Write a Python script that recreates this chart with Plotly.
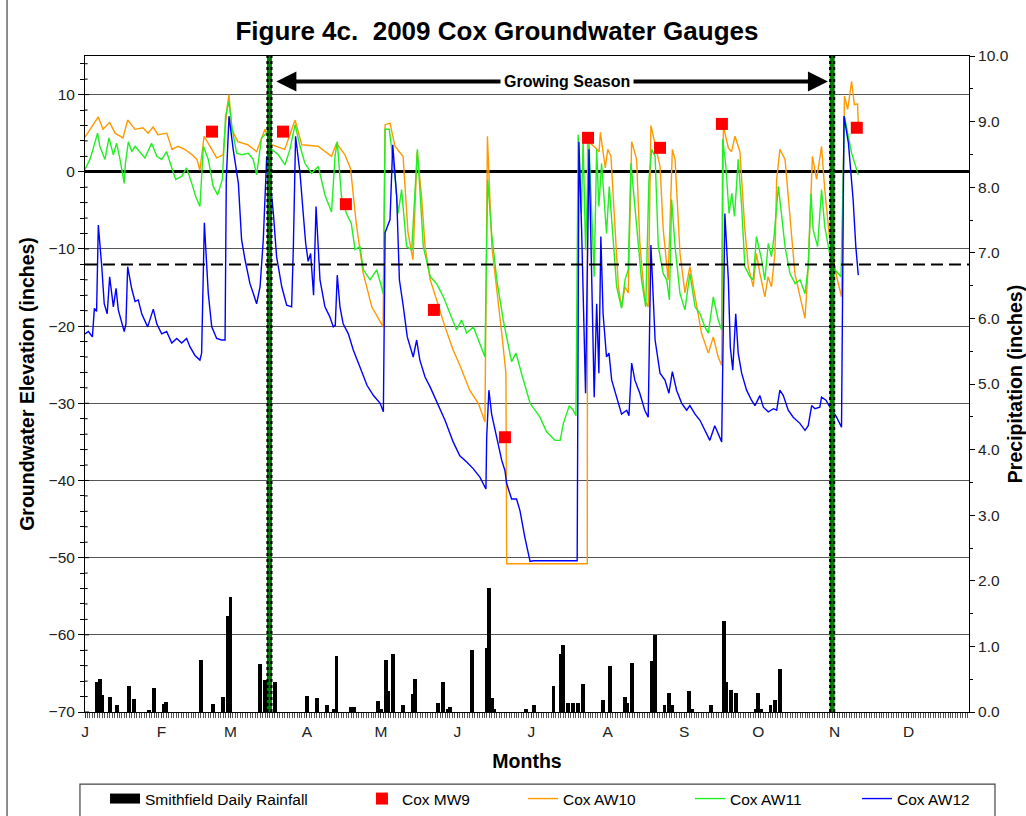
import plotly.graph_objects as go

FONT = "Liberation Sans, Arial, sans-serif"

# ---------------- data ----------------
month_starts = [0, 31, 59, 90, 120, 151, 181, 212, 243, 273, 304, 334]
month_labels = ["J", "F", "M", "A", "M", "J", "J", "A", "S", "O", "N", "D"]

left_ticks = [-70, -60, -50, -40, -30, -20, -10, 0, 10]
right_ticks = [0, 1, 2, 3, 4, 5, 6, 7, 8, 9, 10]

rain_days = [5, 6, 7, 10, 13, 18, 20, 26, 28, 32,
             33, 47, 52, 56, 58, 59, 71, 73, 74, 77,
             90, 94, 98, 101, 102, 108, 109, 119, 120, 122,
             123, 125, 129, 133, 134, 143, 145, 147, 148, 157,
             163, 164, 165, 166, 179, 182, 190, 193, 194, 196,
             198, 200, 202, 210, 213, 219, 220, 222, 230, 231,
             235, 237, 238, 245, 246, 254, 259, 260, 262, 264,
             272, 273, 274, 278, 280, 282]
rain_in = [0.46, 0.50, 0.26, 0.23, 0.10, 0.40, 0.20, 0.03, 0.37, 0.12,
           0.16, 0.79, 0.12, 0.23, 1.46, 1.76, 0.73, 0.49, 0.49, 0.46,
           0.24, 0.21, 0.10, 0.05, 0.85, 0.08, 0.08, 0.17, 0.05, 0.80,
           0.32, 0.89, 0.10, 0.27, 0.50, 0.13, 0.45, 0.05, 0.08, 0.94,
           0.97, 1.89, 0.21, 0.05, 0.05, 0.10, 0.39, 0.89, 1.02, 0.13,
           0.13, 0.13, 0.42, 0.18, 0.70, 0.23, 0.13, 0.74, 0.78, 1.17,
           0.10, 0.29, 0.10, 0.32, 0.05, 0.10, 1.39, 0.46, 0.33, 0.29,
           0.05, 0.29, 0.05, 0.10, 0.18, 0.65]

mw9_days = [51.5, 80.3, 105.8, 141.5, 170.3, 204.0, 233.2, 258.3, 313.0]
mw9_vals = [5.2, 5.2, -4.2, -17.9, -34.4, 4.4, 3.1, 6.2, 5.7]

aw10_days = [0, 5.4, 7.3, 10, 12.2, 15.4, 17.3, 20.3, 23.5, 25.6, 27.6, 29.6, 33.2, 35.3, 37.7,
             40.5, 43.4, 45.4, 46.6, 48.3, 50.7, 53.4, 56, 57.5, 58.4, 59.5, 62, 66, 69.6, 73,
             75.7, 81, 85.2, 87.9, 94.5, 100, 102, 103.4, 105.4, 107.7, 110, 112.8, 116.3, 120.9,
             121.7, 123.7, 125.7, 127.7, 129, 131, 133, 134.7, 136.5, 137.9, 140, 142.6, 146,
             149.3, 152.3, 156, 159.5, 162.2, 163.2, 165, 167, 169, 170.7, 171, 203.7, 203.8,
             207, 208.5, 209, 211, 212, 213.3, 215, 216.3, 217.6, 219, 220.3, 221.7, 223.7, 225,
             227, 228.4, 229.5, 231.8, 233.2, 234.5, 236.5, 238.2, 239.3, 241.3, 243.3, 245.3,
             247.4, 250, 252.8, 254.8, 256.8, 258.2, 258.9, 260.9, 262.2, 263.6, 265.6, 267.6,
             269, 271, 272.3, 273.7, 275.7, 277, 278.4, 279.8, 280.5, 281.8, 283.9, 285.9, 287.9,
             290, 292, 293.3, 295, 296.7, 298.7, 300, 302, 304.8, 306.8, 308, 309.3, 310.9, 312,
             313.3, 313.6]
aw10_vals = [4.5, 7.1, 5.5, 6.4, 5.0, 4.4, 6.7, 5.5, 5.7, 5.0, 5.8, 4.8, 5.0, 2.9, 3.3,
             2.9, 2.2, 1.6, 0.2, 4.6, 3.3, 1.8, 2.2, 8.1, 10.0, 5.5, 3.9, 3.5, 2.6, 5.5,
             3.5, 2.9, 6.7, 3.5, 3.3, 2.0, 3.7, 3.1, 2.2, 0.4, -6.7, -13.1, -17.5, -20.1,
             6.1, 6.3, 3.3, 2.5, 2.0, -7.9, -11.4, 2.6, -3.2, -9.7, -14.0, -16.6, -20.1,
             -23.1, -25.3, -28.3, -30.0, -32.4, 4.6, -9.7, -14.9, -20.9, -26.1, -50.8, -50.8, 4.0,
             3.1, 2.6, 5.1, 0.5, 2.9, 2.0, -7.5, -14.9, -17.5, -14.9, -15.7, 3.9, 1.6, -9.2,
             -16.6, -17.5, 6.0, 2.6, 0.7, -7.5, -14.0, 2.9, 1.6, -10.6, -15.7, -12.3,
             -16.2, -20.9, -23.5, -21.4, -24.0, -25.1, 5.9, 3.1, 2.6, 4.6, 2.6, -7.5,
             -12.3, -14.9, -10.6, -13.2, -16.2, -13.6, -14.9, -10.6, -1.0, 2.9, 1.6, -6.2, -13.2,
             -16.2, -19.0, -12.3, 2.0, -1.0, 3.3, -2.3, -8.8, -13.6, -16.2, 9.8, 8.1, 11.7, 8.7,
             8.8, 6.3]

aw11_days = [0, 2, 3.4, 5.1, 6, 8.1, 9.7, 11.5, 12.8, 14.2, 15.9, 16.4, 17.6, 19, 20.3, 22.3,
             24.3, 27, 29.1, 31.1, 33.1, 35.4, 36.8, 39.2, 41.2, 43.3, 44.9, 46.6, 48, 50, 52,
             53.8, 55.7, 57, 58.4, 59.7, 61.5, 63.5, 66.2, 68.2, 69.6, 71.6, 73.7, 75.7, 78.4,
             81.1, 83.1, 85.2, 87.2, 89.2, 91.9, 94.6, 97.3, 100, 101.4, 102.3, 104, 106, 108,
             109.5, 111.5, 112.9, 115.6, 118.3, 121, 121.7, 123.4, 125.7, 127, 128.4, 130.4,
             132.5, 133.8, 134.8, 135.8, 137.2, 140, 142.6, 145.3, 148, 150.7, 152.7, 154.8,
             157.5, 160.2, 162.2, 163.3, 164.9, 167, 169.6, 173, 174.8, 177, 180.5, 184.5, 187.2,
             190.6, 192.7, 194, 196.4, 198, 199.1, 200, 201.3, 202, 203, 204.4, 205.5, 206.5,
             207.5, 208.4, 209.5, 211.5, 212.6, 214.2, 215.6, 217.6, 219, 220.3, 221.4, 223,
             224.4, 225.7, 227.4, 228.7, 229.8, 231.2, 232.5, 234.5, 235.9, 237, 237.9, 239.3,
             241.3, 243.3, 245.3, 247.4, 249.4, 251.4, 252.8, 254.8, 256.8, 258.2, 258.6, 259.8,
             261.2, 262.3, 263.4, 264.9, 266.3, 267.6, 269.7, 271, 272.3, 274.4, 275.7, 277.1,
             278.4, 279.5, 281.2, 282.5, 283.9, 285.9, 288, 290, 292, 293.3, 294.4, 295.3, 297.1,
             298.7, 300, 302, 304.1, 306.6, 308, 309.3, 310.9, 313.6]
aw11_vals = [0.3, 1.6, 3.1, 5.0, 3.3, 1.6, 4.4, 2.2, 3.7, 1.6, -1.5, 1.1, 3.9, 2.6, 3.3, 2.6,
             1.8, 3.7, 2.0, 1.6, 2.6, 0.3, -1.0, -0.6, 0.5, -1.5, -3.2, -4.5, 3.3, 1.6, -1.9,
             -3.0, -1.0, 7.2, 9.1, 5.5, 2.4, 2.2, 2.4, 1.6, -0.4, 4.4, 5.0, 2.9, 2.2,
             0.9, 2.9, 6.1, 3.3, 1.1, -0.2, 0.7, -3.0, -5.2, 2.0, 3.9, -3.2, -5.4, -6.7,
             -10.1, -9.7, -12.7, -14.0, -12.7, -15.8, 5.5, 5.5, -0.6, -5.4, -2.3, -9.7,
             -10.1, -2.3, 2.9, -2.3, -9.7, -13.6, -14.5, -16.2, -18.4, -20.5, -19.2, -20.9,
             -20.1, -22.2, -24.0, -1.0, -8.0, -14.0, -19.2, -24.6, -23.5, -26.1, -30.0, -31.8, -33.7,
             -34.8, -34.8, -32.6, -30.3, -30.9, -31.6, 4.8, -5.4, 4.2, -10.1, 3.7, -6.7, -13.6,
             2.9, -4.5, 1.1, -8.0, -1.9, -8.8, -14.9, -17.7, -14.0, -12.7, 1.1, -4.5,
             -9.7, -14.0, -17.5, -1.0, 2.9, 2.0, -9.7, -13.2, -14.0, -16.6, -3.6, -9.7,
             -15.8, -17.9, -13.2, -17.5, -18.4, -20.1, -20.9, -16.2, -19.2, -20.5, 4.2, 1.1,
             -5.4, -2.8, -5.8, 1.6, -4.5, -12.3, -13.6, -14.0, -8.4, -11.4, -14.0, -9.3,
             -11.0, -8.2, -1.9, -5.4, -9.7, -13.2, -14.5, -14.0, -15.8, -12.3, -2.8, -7.5, -9.7,
             -2.3, -7.1, -10.6, -12.7, -13.6, 7.2, 5.0, 2.4, -0.4]

aw12_days = [0, 1.4, 3, 3.8, 4.7, 5.4, 6.8, 7.8, 9, 10, 11.5, 12.6, 13.5, 14.9, 15.9, 16.6, 17.3,
             18.9, 20.3, 21.6, 23, 25.4, 27.7, 29.1, 31.1, 33.1, 35.2, 37.2, 39.2, 41.2, 42.6,
             44.6, 46.6, 47.3, 48.4, 50, 51.4, 53.4, 55.4, 56.8, 57.3, 58.4, 60.1, 62.2, 63.5,
             64.9, 66.9, 68.3, 69.6, 71, 72.3, 73.7, 75, 76.4, 77.7, 79.8, 81.8, 83.8, 84.5, 85.4,
             87.2, 88.5, 89.5, 90.5, 91.5, 92.7, 93.7, 95.3, 97.3, 99.3, 100.7, 101.5, 102.3,
             103.4, 104.7, 106.8, 108.8, 111.5, 113.5, 114.4, 117, 119.7, 121, 121.7, 123.7,
             124.8, 126.4, 127.5, 129.1, 130.7, 133.1, 134.5, 135.8, 137.9, 140, 143.3, 146,
             149.3, 152, 154.8, 157.5, 160.2, 162.6, 162.9, 163.8, 164.9, 167, 169, 170.3, 171,
             173, 175, 176.4, 178.4, 180.5, 181.8, 199.6, 200.3, 201.4, 203, 204.4, 205.5, 206.5,
             207.5, 208.4, 209.2, 210.1, 211.5, 212.5, 213.6, 215.6, 217.6, 219.7, 220.6, 221.7,
             223, 225, 227, 228.4, 229.5, 231.2, 233.2, 235.2, 236.8, 238.2, 239.9, 242, 244,
             245.3, 247.4, 249.4, 251.4, 253.4, 255.4, 256.8, 258.2, 259.5, 260.9, 261.7, 262.7,
             263.9, 264.9, 266.3, 268.3, 270.3, 271.7, 273.7, 275.1, 277.1, 279.2, 280.5, 281.8,
             283.2, 285.2, 287.2, 289.9, 292, 293.3, 294.7, 296, 298, 298.7, 300.5, 302.1, 304.8,
             306.8, 307.8, 309.6, 311.5, 312.6, 313.6]
aw12_vals = [-21.0, -20.7, -21.4, -17.7, -18.1, -6.9, -12.3, -17.1, -18.4, -13.6, -17.5, -15.1,
             -17.9, -19.7, -20.7, -19.7, -12.3,
             -15.1, -16.8, -16.6, -18.4, -20.1, -17.8, -19.7, -21.0, -20.7, -22.2, -21.6, -22.2,
             -21.6, -22.7,
             -23.8, -24.4, -23.5, -6.6, -15.8, -20.1, -21.6, -21.8, -21.8, -1.0, 7.2, 2.9, -1.5,
             -8.8,
             -11.4, -14.5, -15.8, -17.1, -14.9, -8.8, 2.0, -1.0, -5.4, -11.0, -14.9, -17.3, -17.5,
             -9.7, 4.6,
             -0.2, -5.4, -9.3, -11.6, -10.6, -16.0, -4.5, -14.0, -17.5, -18.8, -20.1, -19.9,
             -13.4,
             -17.5, -19.7, -21.0, -23.1, -25.3, -27.0, -27.7, -29.0, -30.0, -31.1, -7.9, -6.2,
             3.5, -3.2, -14.0, -17.5, -21.4, -24.0, -21.8, -24.4, -26.6, -27.9, -30.3, -32.2,
             -35.0, -36.8, -37.6, -38.5, -39.6, -41.1, -34.4, -28.3, -31.4, -34.4, -37.4, -38.7,
             -40.4,
             -42.4, -42.4, -43.9, -47.4, -50.5, -50.4, -50.4, 3.9, -7.5, -28.7, 2.9, -14.0, -29.2,
             -17.1, -26.1, -8.4, -18.4, -24.0, -23.5, -27.0, -29.2, -31.4, -30.9, -31.6, -24.8,
             -27.0, -28.7, -30.9, -31.8, -9.5, -21.8, -26.1, -27.0, -28.7, -25.9, -28.3, -30.0,
             -30.9,
             -30.3, -31.4, -32.2, -33.5, -34.8, -32.9, -33.9, -35.0, -5.4, -14.0, -22.7, -25.7,
             -18.4, -23.5, -26.1, -28.3, -29.6, -30.3, -29.0, -30.5, -31.1, -30.7, -30.9, -28.3,
             -29.0, -30.9, -31.8, -32.6, -33.5, -32.9, -30.3, -30.7, -30.5, -29.2, -29.6, -30.5,
             -31.8,
             -33.1, 7.2, 3.7, -3.6, -9.7, -13.4]

growing_season = [74.8, 303.0]
arrow_ends = [77.0, 301.3]
arrow_level = 11.7
target_level = -12

# ---------------- figure ----------------
fig = go.Figure()

fig.add_trace(go.Bar(x=rain_days, y=rain_in, yaxis="y2", width=1.6,
                     marker=dict(color="black", line=dict(width=0)),
                     name="Smithfield Daily Rainfall", showlegend=False))
# legend key for rainfall (thick black bar sample)
fig.add_trace(go.Scatter(x=[None], y=[None], mode="lines", name="Smithfield Daily Rainfall",
                         line=dict(color="black", width=10), legend="legend"))
fig.add_trace(go.Scatter(x=aw10_days, y=aw10_vals, mode="lines", name="Cox AW10",
                         line=dict(color="#FF9900", width=1.4), legend="legend3"))
fig.add_trace(go.Scatter(x=aw11_days, y=aw11_vals, mode="lines", name="Cox AW11",
                         line=dict(color="#22EE22", width=1.4), legend="legend4"))
fig.add_trace(go.Scatter(x=aw12_days, y=aw12_vals, mode="lines", name="Cox AW12",
                         line=dict(color="#0000FF", width=1.4), legend="legend5"))
fig.add_trace(go.Scatter(x=mw9_days, y=mw9_vals, mode="markers", name="Cox MW9",
                         marker=dict(symbol="square", size=12, color="#FF0000"),
                         legend="legend2"))

# growing season lines
for d in growing_season:
    fig.add_shape(type="line", xref="x", yref="paper", x0=d, x1=d, y0=0, y1=1,
                  line=dict(color="#008000", width=5))
    for off in (-0.8, 0.8):
        fig.add_shape(type="line", xref="x", yref="paper", x0=d + off, x1=d + off, y0=0, y1=1,
                      line=dict(color="black", width=2.2, dash="3px,3px"))

fig.add_shape(type="line", xref="paper", yref="y", x0=0, x1=1, y0=target_level, y1=target_level,
              line=dict(color="black", width=2, dash="12px,6px"))

# left-axis ticks that cross the axis line (inner half)
for t in range(-70, 16, 2):
    fig.add_shape(type="line", xref="paper", yref="y", x0=0, x1=0.0045 if t % 10 == 0 else 0.003,
                  y0=t, y1=t, line=dict(color="black", width=1))

# legend frame and outer frame
fig.add_shape(type="rect", xref="paper", yref="paper", x0=-0.0057, x1=1.0294, y0=-0.1098, y1=-0.20,
              line=dict(color="#444", width=1.2))
fig.add_shape(type="line", xref="paper", yref="paper", x0=-0.0882, x1=-0.0882, y0=-0.20, y1=1.1,
              line=dict(color="#444", width=1.2))

fig.add_annotation(x=arrow_ends[1], y=arrow_level, ax=arrow_ends[0], ay=arrow_level,
                   xref="x", yref="y", axref="x", ayref="y", text="", showarrow=True,
                   arrowside="end+start", arrowhead=2, arrowsize=1, arrowwidth=4,
                   arrowcolor="black", standoff=0, startstandoff=0)
fig.add_annotation(x=195.5, y=arrow_level, xref="x", yref="y", text="<b>Growing Season</b>",
                   showarrow=False, bgcolor="white", font=dict(family=FONT, size=16, color="black"),
                   borderpad=3)

leg_common = dict(orientation="h", yanchor="middle", y=-0.1326, xanchor="left",
                  bgcolor="rgba(0,0,0,0)", font=dict(family=FONT, size=15.5, color="black"))

fig.update_layout(
    width=1026, height=816,
    margin=dict(l=85, r=57, t=56, b=104, autoexpand=False),
    paper_bgcolor="white", plot_bgcolor="white",
    font=dict(family=FONT, size=15, color="#222"),
    title=dict(text="<b>Figure 4c.\u00a0 2009 Cox Groundwater Gauges</b>",
               x=0.466, xref="paper", xanchor="center", y=0.962, yanchor="middle",
               font=dict(family=FONT, size=26, color="black")),
    bargap=0,
    xaxis=dict(range=[0, 358.5], tickmode="array", tickvals=month_starts, ticktext=month_labels,
               ticks="outside", ticklen=5, tickcolor="#333", showline=True, linecolor="black",
               linewidth=1, mirror=True, showgrid=False, zeroline=False, automargin=False,
               minor=dict(dtick=1, tick0=0, ticks="outside", ticklen=5, tickcolor="#555",
                          showgrid=False),
               tickfont=dict(family=FONT, size=15.5, color="#222"),
               title=dict(text="<b>Months</b>", font=dict(family=FONT, size=19.5, color="black"),
                          standoff=15)),
    yaxis=dict(range=[-70, 15], tickmode="array", tickvals=left_ticks, ticks="outside", ticklen=6,
               tickcolor="black", showline=True, linecolor="black", linewidth=1,
               showgrid=True, gridcolor="#555", gridwidth=1, automargin=False,
               zeroline=True, zerolinecolor="black", zerolinewidth=2.5,
               minor=dict(dtick=2, tick0=0, ticks="outside", ticklen=4, tickcolor="black",
                          showgrid=False),
               tickfont=dict(family=FONT, size=15.5, color="#222"),
               title=dict(text="<b>Groundwater Elevation (inches)</b>",
                          font=dict(family=FONT, size=19.5, color="black"), standoff=8)),
    yaxis2=dict(range=[0, 10], overlaying="y", side="right", tickmode="array",
                tickvals=right_ticks, tickformat=".1f", ticks="outside", ticklen=5,
                tickcolor="black", showline=True, linecolor="black", linewidth=1,
                showgrid=False, zeroline=False, automargin=False,
                minor=dict(dtick=0.5, tick0=0, ticks="outside", ticklen=3, tickcolor="black"),
                tickfont=dict(family=FONT, size=15.5, color="#222"),
                title=dict(text="<b>Precipitation (inches)</b>",
                           font=dict(family=FONT, size=19.5, color="black"), standoff=10)),
    legend=dict(x=0.0226, **leg_common),
    legend2=dict(x=0.3133, **leg_common),
    legend3=dict(x=0.4955, **leg_common),
    legend4=dict(x=0.6844, **leg_common),
    legend5=dict(x=0.8733, **leg_common),
)

fig.write_html("out.html", config={"displayModeBar": False},
               post_script="document.body.style.margin='0';document.body.style.overflow='hidden';")
